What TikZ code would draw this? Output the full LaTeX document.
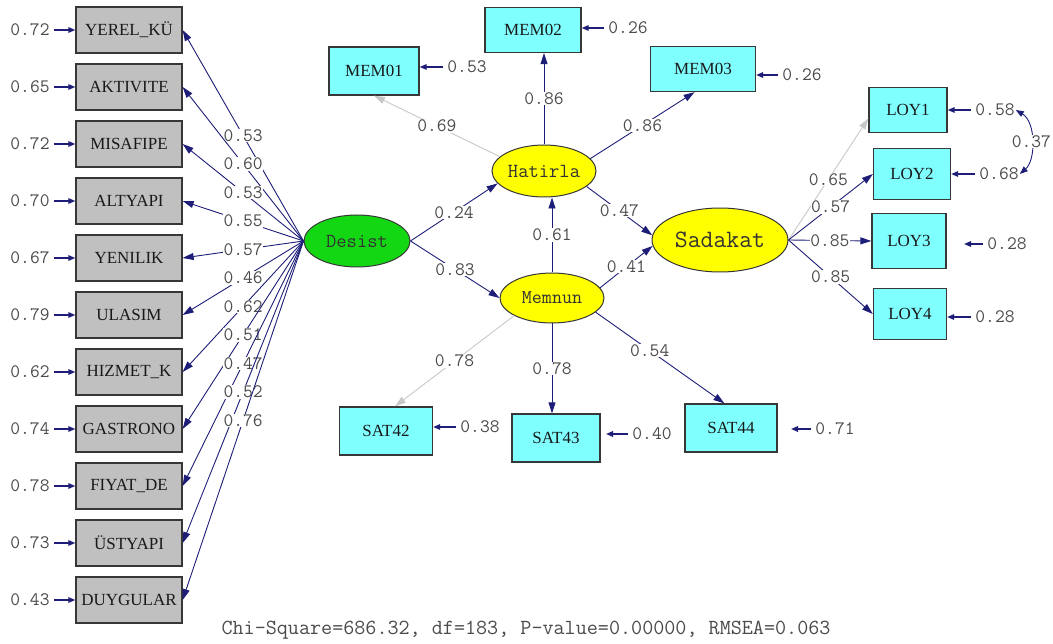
\documentclass[tikz,border=0pt]{standalone}
\usepackage{fontspec}
\setmainfont{Liberation Serif}
\usetikzlibrary{arrows.meta,shapes.geometric}

\definecolor{navy}{RGB}{30,30,120}
\definecolor{cyanbox}{RGB}{128,255,255}
\definecolor{boxgray}{RGB}{192,192,192}
\definecolor{framegray}{RGB}{55,55,55}
\definecolor{latgreen}{RGB}{20,215,20}
\definecolor{latyellow}{RGB}{255,255,0}
\definecolor{fixedgray}{RGB}{200,200,200}
\definecolor{numgray}{RGB}{75,75,75}

\tikzset{
  obsgray/.style={rectangle, draw=framegray, fill=boxgray, line width=1.3pt,
    minimum width=106pt, minimum height=46pt, inner sep=0pt,
    font=\fontsize{17}{17}\selectfont, text=black!90},
  obscyan/.style={rectangle, draw=framegray, fill=cyanbox, line width=1.3pt,
    inner sep=0pt, font=\fontsize{17}{17}\selectfont, text=black!90},
  latent/.style={ellipse, draw=framegray, line width=1pt, inner sep=0pt,
    font=\ttfamily\fontsize{20}{20}\selectfont, text=black!80},
  num/.style={font=\ttfamily\fontsize{19}{19}\selectfont, text=numgray, inner sep=1pt},
  coef/.style={num, fill=white, inner sep=0.5pt},
  link/.style={draw=navy, line width=0.9pt, -{Triangle[length=11pt,width=7pt]}},
  fixedlink/.style={link, draw=fixedgray},
  errarr/.style={draw=navy, line width=1.5pt, -{Triangle[length=7pt,width=5.5pt]}, shorten <=3pt},
}

\begin{document}
\begin{tikzpicture}[x=1pt,y=-1pt]
\useasboundingbox (0,0) rectangle (1053,644);

% latent variables
\node[latent, fill=latgreen, minimum width=106pt, minimum height=52pt] (Desist) at (357,241) {Desist};
\node[latent, fill=latyellow, minimum width=104pt, minimum height=52pt] (Hatirla) at (544,171) {Hatirla};
\node[latent, fill=latyellow, minimum width=104pt, minimum height=50pt,
      font=\ttfamily\fontsize{19.5}{19.5}\selectfont] (Memnun) at (552,298) {Memnun};
\node[latent, fill=latyellow, minimum width=136pt, minimum height=64pt,
      font=\ttfamily\fontsize{25}{25}\selectfont] (Sadakat) at (720,240) {Sadakat};

% indicators of Desist with error variances and loadings
\foreach \txt/\err/\ld [count=\i from 0] in
  {YEREL\_KÜ/0.72/0.53, AKTIVITE/0.65/0.60, MISAFIPE/0.72/0.53,
   ALTYAPI/0.70/0.55, YENILIK/0.67/0.57, ULASIM/0.79/0.46,
   HIZMET\_K/0.62/0.62, GASTRONO/0.74/0.51, FIYAT\_DE/0.78/0.47,
   ÜSTYAPI/0.73/0.52, DUYGULAR/0.43/0.76} {
  \node[obsgray] (v\i) at (129,30+57*\i) {\txt};
  \node[num] (e\i) at (30,30+57*\i) {\err};
  \draw[errarr] (e\i) -- (v\i);
  \draw[link] (Desist.west) -- node[coef] {\ld} (v\i.east);
}

% indicators of Hatirla
\node[obscyan, minimum width=90pt, minimum height=48pt] (MEM01) at (374,71) {MEM01};
\node[obscyan, minimum width=96pt, minimum height=45pt] (MEM02) at (533,30) {MEM02};
\node[obscyan, minimum width=105pt, minimum height=45pt] (MEM03) at (703,69) {MEM03};

% indicators of Memnun
\node[obscyan, minimum width=93pt, minimum height=48pt] (SAT42) at (386,431) {SAT42};
\node[obscyan, minimum width=88pt, minimum height=48pt] (SAT43) at (556,438) {SAT43};
\node[obscyan, minimum width=92pt, minimum height=48pt] (SAT44) at (731,428) {SAT44};

% indicators of Sadakat
\node[obscyan, minimum width=78pt, minimum height=45pt] (LOY1) at (908,110) {LOY1};
\node[obscyan, minimum width=77pt, minimum height=51pt] (LOY2) at (912,174) {LOY2};
\node[obscyan, minimum width=74pt, minimum height=55pt] (LOY3) at (909,241) {LOY3};
\node[obscyan, minimum width=73pt, minimum height=51pt] (LOY4) at (910,314) {LOY4};

% structural paths
\draw[link] (Desist.east) -- node[coef] {0.24} (Hatirla.195);
\draw[link] (Desist.east) -- node[coef] {0.83} (Memnun.west);
\draw[link] (Memnun.north) -- node[coef] {0.61} (Memnun.north |- Hatirla.south);
\draw[link] (Hatirla.-20) -- node[coef] {0.47} (Sadakat.176);
\draw[link] (Memnun.12) -- node[coef] {0.41} (Sadakat.185);

% measurement paths
\draw[fixedlink] (Hatirla.162) -- node[coef] {0.69} (MEM01.south);
\draw[link] (Hatirla.north) -- node[coef] {0.86} (Hatirla.north |- MEM02.south);
\draw[link] (Hatirla.15) -- node[coef] {0.86} (MEM03.250);
\draw[fixedlink] (Memnun.205) -- node[coef] {0.78} (SAT42.70);
\draw[link] (Memnun.south) -- node[coef] {0.78} (SAT43.north -| Memnun.south);
\draw[link] (Memnun.-18) -- node[coef, pos=0.42] {0.54} (SAT44.105);
\draw[fixedlink] (Sadakat.east) -- node[coef] {0.65} (LOY1.-168);
\draw[link] (Sadakat.east) -- node[coef] {0.57} (LOY2.west);
\draw[link] (Sadakat.east) -- node[coef] {0.85} (LOY3.west);
\draw[link] (Sadakat.east) -- node[coef] {0.85} (LOY4.west);

% error variances
\node[num] (eMEM01) at (467,67) {0.53};
\node[num] (eMEM02) at (628,28) {0.26};
\node[num] (eMEM03) at (802,75) {0.26};
\node[num] (eSAT42) at (480,427) {0.38};
\node[num] (eSAT43) at (652,434) {0.40};
\node[num] (eSAT44) at (835,429) {0.71};
\node[num] (eLOY1) at (995,110) {0.58};
\node[num] (eLOY2) at (999,174) {0.68};
\node[num] (eLOY3) at (1007,244) {0.28};
\node[num] (eLOY4) at (995,317) {0.28};

\coordinate (tSAT43) at (606,434);
\coordinate (tSAT44) at (791,429);
\coordinate (tLOY3) at (964,244);

\draw[errarr] (eMEM01.west) -- (eMEM01.west -| MEM01.east);
\draw[errarr] (eMEM02.west) -- (eMEM02.west -| MEM02.east);
\draw[errarr] (eMEM03.west) -- (eMEM03.west -| MEM03.east);
\draw[errarr] (eSAT42.west) -- (eSAT42.west -| SAT42.east);
\draw[errarr] (eSAT43.west) -- (tSAT43);
\draw[errarr] (eSAT44.west) -- (tSAT44);
\draw[errarr] (eLOY1.west) -- (eLOY1.west -| LOY1.east);
\draw[errarr] (eLOY2.west) -- (eLOY2.west -| LOY2.east);
\draw[errarr] (eLOY3.west) -- (tLOY3);
\draw[errarr] (eLOY4.west) -- (eLOY4.west -| LOY4.east);

% error covariance LOY1--LOY2
\draw[navy, line width=0.9pt, {Triangle[length=8pt,width=6pt]}-{Triangle[length=8pt,width=6pt]}]
  (eLOY1.east) .. controls (1036,122) and (1036,160) .. node[coef, pos=0.5] {0.37} (eLOY2.east);

% fit statistics
\node[font=\ttfamily\fontsize{21.5}{21.5}\selectfont, text=numgray] (fit) at (526,630)
  {Chi-Square=686.32, df=183, P-value=0.00000, RMSEA=0.063};
\end{tikzpicture}
\end{document}
